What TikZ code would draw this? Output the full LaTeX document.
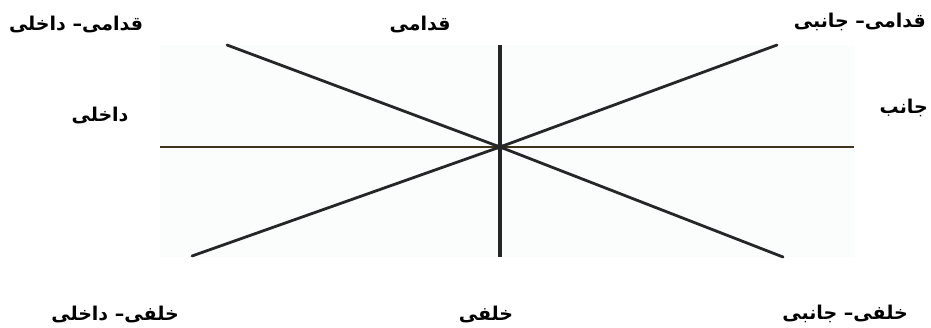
\documentclass[tikz,border=0pt]{standalone}
\usepackage{fontspec}
\newfontfamily\arabicfont[Script=Arabic]{DejaVu Sans}
\TeXXeTstate=1
\definecolor{scanbg}{RGB}{251,253,253}
\definecolor{inkline}{RGB}{38,38,40}
\definecolor{hline}{RGB}{62,52,28}
\tikzset{
  lbl/.style={font=\arabicfont\bfseries\fontsize{19}{22}\selectfont, inner sep=0pt, text=black},
  axis/.style={draw=inkline, line width=2.8pt, line cap=round},
  vaxis/.style={draw=inkline, line width=4.5pt},
  haxis/.style={draw=hline, line width=1.8pt}
}
\begin{document}
\begin{tikzpicture}[x=1pt,y=-1pt]
\useasboundingbox (0,0) rectangle (931,327);
\fill[scanbg] (160,45) rectangle (855,257);
\coordinate (c) at (500,147);
\coordinate (hl) at (160,147);
\coordinate (hr) at (854,147);
\coordinate (vt) at (500,45);
\coordinate (vb) at (500,257);
\coordinate (tl) at (227,45);
\coordinate (br) at (783,257);
\coordinate (tr) at (777,45);
\coordinate (bl) at (192,256);
\draw[haxis] (hl) -- (hr);
\draw[axis] (tl) -- (c) -- (br);
\draw[axis] (tr) -- (c) -- (bl);
\draw[vaxis] (vt) -- (vb);
\fill[inkline] (c) circle (3.5pt);
\node[lbl] (ai) at (76,24) {\beginR قدامی– داخلی\endR};
\node[lbl] (a) at (420,24) {\beginR قدامی\endR};
\node[lbl, anchor=east] (al) at (926,22) {\beginR قدامی– جانبی\endR};
\node[lbl] (i) at (100,115) {\beginR داخلی\endR};
\node[lbl, anchor=east] (l) at (928,108) {\beginR جانب\endR};
\node[lbl] (pi) at (115,314) {\beginR خلفی– داخلی\endR};
\node[lbl] (p) at (486,314) {\beginR خلفی\endR};
\node[lbl] (pl) at (845,314) {\beginR خلفی– جانبی\endR};
\end{tikzpicture}
\end{document}
